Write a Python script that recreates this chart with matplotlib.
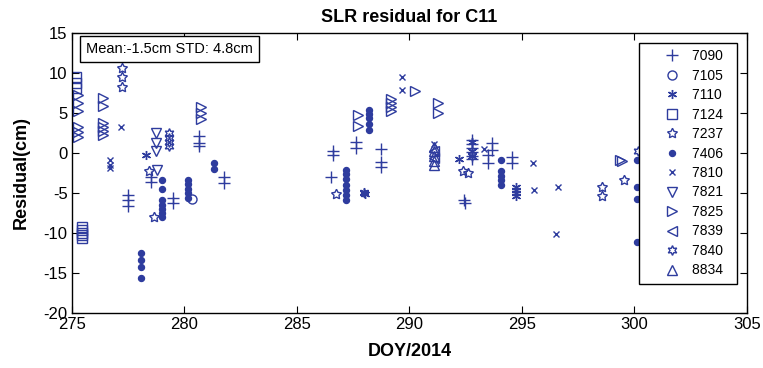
import matplotlib

matplotlib.use("Agg")
import matplotlib.pyplot as plt

plt.rcParams["font.family"] = ["Liberation Sans", "DejaVu Sans"]
plt.rcParams["axes.unicode_minus"] = False

# station residuals (DOY, cm)
s7090_x = [277.5, 277.5, 277.5, 278.5, 278.5, 279.5, 279.5, 280.65, 280.65, 280.65,
           281.77, 281.77, 286.5, 286.6, 286.6, 287.65, 287.65, 288.75, 288.75, 288.75,
           292.42, 292.47, 292.8, 292.8, 292.8, 292.8, 292.8, 292.8,
           293.5, 293.5, 293.65, 293.65, 294.57, 294.57]
s7090_y = [-5.2, -5.9, -6.6, -3.0, -3.6, -5.6, -6.2, 2.1, 1.3, 0.9,
           -3.0, -3.7, -3.0, 0.3, -0.2, 1.4, 0.6, 0.5, -1.1, -1.7,
           -5.9, -6.2, 1.6, 1.1, 0.6, 0.1, -0.4, -0.8,
           -0.3, -1.2, 1.2, 0.4, -0.5, -1.2]

s7105_x = [280.35]
s7105_y = [-5.7]

s7110_x = [278.3, 287.97, 288.0, 288.03, 292.2, 292.8, 292.8, 292.8,
           294.76, 294.76, 294.76, 294.76]
s7110_y = [-0.3, -4.9, -5.0, -5.1, -0.8, 1.4, 0.2, -0.4,
           -4.2, -4.6, -5.0, -5.4]

s7124_x = [275.2, 275.2, 275.2, 275.45, 275.45, 275.45, 275.45, 275.45]
s7124_y = [9.5, 8.7, 8.1, -9.3, -9.7, -10.0, -10.3, -10.6]

s7237_x = [277.25, 277.25, 277.25, 278.45, 278.66, 286.75, 292.4, 292.6,
           298.55, 298.55, 299.55]
s7237_y = [10.6, 9.5, 8.3, -2.2, -7.95, -5.1, -2.3, -2.5,
           -4.2, -5.4, -3.4]

s7406_x = [278.1, 278.1, 278.1, 278.1,
           279.0, 279.0, 279.0, 279.0, 279.0, 279.0, 279.0,
           280.15, 280.15, 280.15, 280.15, 280.15,
           281.3, 281.3,
           287.2, 287.2, 287.2, 287.2, 287.2, 287.2, 287.2,
           288.2, 288.2, 288.2, 288.2, 288.2,
           294.06, 294.06, 294.06, 294.06, 294.06,
           300.1, 300.1, 300.1, 300.1]
s7406_y = [-12.5, -13.4, -14.3, -15.6,
           -3.4, -4.5, -5.9, -6.5, -7.0, -7.5, -8.0,
           -3.4, -3.9, -4.5, -5.0, -5.6,
           -1.3, -2.0,
           -2.1, -2.6, -3.3, -4.0, -4.6, -5.2, -5.9,
           5.4, 4.9, 4.4, 3.6, 2.9,
           -0.9, -2.3, -2.9, -3.4, -4.0,
           -0.9, -4.3, -5.8, -11.1]

s7810_x = [277.2, 276.7, 276.7, 276.7, 289.67, 289.67, 291.1, 293.3,
           295.5, 295.55, 296.6, 296.5]
s7810_y = [3.2, -0.9, -1.5, -1.9, 9.5, 7.9, 1.1, 0.5,
           -1.3, -4.6, -4.2, -10.1]

s7821_x = [278.75, 278.75, 278.75, 278.8]
s7821_y = [2.5, 1.3, 0.2, -2.1]

s7825_x = [275.3, 275.3, 275.3, 275.3, 275.3, 275.3,
           276.4, 276.4, 276.4, 276.4, 276.4, 276.4,
           280.75, 280.75, 280.75, 287.7, 287.7,
           289.2, 289.2, 289.2, 289.2, 290.27, 291.27, 291.27,
           299.35, 299.45]
s7825_y = [7.2, 6.2, 5.2, 3.3, 2.6, 2.0,
           6.9, 5.9, 3.7, 3.2, 2.8, 2.3,
           5.7, 5.0, 4.3, 4.8, 3.4,
           6.8, 6.3, 5.8, 5.2, 7.75, 6.2, 5.0,
           -0.9, -1.0]

s7839_x = [291.1, 291.1]
s7839_y = [0.2, -0.6]

s7840_x = [279.3, 279.3, 279.3, 279.3, 300.15]
s7840_y = [2.5, 1.9, 1.4, 0.9, 0.2]

s8834_x = [291.1, 291.1, 291.1, 291.1, 291.1]
s8834_y = [0.8, 0.2, -0.4, -1.0, -1.5]

stations = ["7090", "7105", "7110", "7124", "7237", "7406",
            "7810", "7821", "7825", "7839", "7840", "8834"]
xs = [s7090_x, s7105_x, s7110_x, s7124_x, s7237_x, s7406_x,
      s7810_x, s7821_x, s7825_x, s7839_x, s7840_x, s8834_x]
ys = [s7090_y, s7105_y, s7110_y, s7124_y, s7237_y, s7406_y,
      s7810_y, s7821_y, s7825_y, s7839_y, s7840_y, s8834_y]

BLUE = "#2e3c9e"
# marker, size, filled
STYLE = {
    "7090": ("+", 8, False),
    "7105": ("o", 6.5, False),
    "7110": ((6, 2, 0), 6.5, False),
    "7124": ("s", 7, False),
    "7237": ((5, 1, 0), 7.5, False),
    "7406": ("o", 4.3, True),
    "7810": ("x", 4.5, False),
    "7821": ("v", 7.5, False),
    "7825": (">", 7.5, False),
    "7839": ("<", 7.5, False),
    "7840": ((6, 1, 0), 7, False),
    "8834": ("^", 7.5, False),
}

fig = plt.figure(figsize=(7.63, 3.68), dpi=100)
ax = fig.add_axes([0.094, 0.150, 0.885, 0.760])

for name, x, y in zip(stations, xs, ys):
    mk, ms, filled = STYLE[name]
    # trailing spaces leave the right margin the reference legend has
    ax.plot(x, y, linestyle="none", marker=mk, markersize=ms,
            markeredgecolor=BLUE, markerfacecolor=BLUE if filled else "none",
            markeredgewidth=1.0, label=name + "  ")

ax.set_xlim(275, 305)
ax.set_ylim(-20, 15)
ax.set_xticks(range(275, 306, 5))
ax.set_yticks(range(-20, 16, 5))
ax.tick_params(direction="in", top=True, right=True, length=5, labelsize=12, pad=3)
for sp in ax.spines.values():
    sp.set_linewidth(1.0)

ax.set_title("SLR residual for C11", fontsize=13, fontweight="bold", pad=8)
ax.set_xlabel("DOY/2014", fontsize=13, fontweight="bold", labelpad=8)
ax.set_ylabel("Residual(cm)", fontsize=13, fontweight="bold", labelpad=10)

ax.text(0.021, 0.968, "Mean:-1.5cm STD: 4.8cm", transform=ax.transAxes,
        fontsize=10.5, ha="left", va="top",
        bbox=dict(boxstyle="square,pad=0.4", facecolor="white", edgecolor="black", linewidth=1.0))

leg = ax.legend(loc="upper right", fontsize=10, frameon=True, fancybox=False,
                edgecolor="black", framealpha=1.0, borderpad=0.45,
                handlelength=3.9, handletextpad=-0.5, labelspacing=0.395,
                borderaxespad=0.7, numpoints=1)
leg.get_frame().set_linewidth(1.0)

fig.savefig("out.png", dpi=100, facecolor="white")
